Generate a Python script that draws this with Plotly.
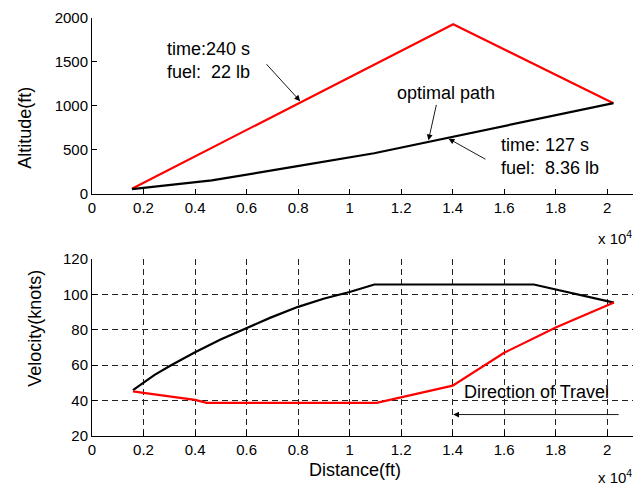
import plotly.graph_objects as go

# ---- data ----
alt_opt_dist = [1550, 4650, 7800, 10950, 20240]
alt_opt = [50, 150, 305, 460, 1030]
alt_alt_dist = [1550, 14020, 20240]
alt_alt = [56, 1930, 1030]

vel_opt_dist = [1590, 2000, 2430, 3070, 4000, 4990, 6000, 6930, 8000, 9020, 10000, 10960, 17150, 20260]
vel_opt = [45.9, 50.2, 54.5, 59.9, 67.3, 74.4, 80.9, 86.8, 92.9, 97.6, 101.3, 105.5, 105.5, 95.3]
vel_alt_dist = [1590, 2000, 4000, 4450, 11050, 14000, 16000, 18000, 20260]
vel_alt = [45.2, 44.3, 40.4, 38.7, 38.7, 48.4, 67.0, 81.3, 95.3]

x_tickvals = [0, 2000, 4000, 6000, 8000, 10000, 12000, 14000, 16000, 18000, 20000]
x_ticktext = ["0", "0.2", "0.4", "0.6", "0.8", "1", "1.2", "1.4", "1.6", "1.8", "2"]
alt_ticks = [0, 500, 1000, 1500, 2000]
vel_ticks = [20, 40, 60, 80, 100, 120]

FONT = "Liberation Sans, Arial, sans-serif"
W, H = 642, 486
ML, MR, MT, MB = 92, 9, 13, 50
PW = W - ML - MR
PH = H - MT - MB

def px_x(px):
    return (px - ML) / PW

def px_y(py):
    return (H - MB - py) / PH

fig = go.Figure()
fig.add_trace(go.Scatter(x=alt_alt_dist, y=alt_alt, mode="lines",
                         line=dict(color="#ff0000", width=2.2), xaxis="x", yaxis="y"))
fig.add_trace(go.Scatter(x=alt_opt_dist, y=alt_opt, mode="lines",
                         line=dict(color="#000000", width=2.2), xaxis="x", yaxis="y"))
fig.add_trace(go.Scatter(x=vel_opt_dist, y=vel_opt, mode="lines",
                         line=dict(color="#000000", width=2.2), xaxis="x2", yaxis="y2"))
fig.add_trace(go.Scatter(x=vel_alt_dist, y=vel_alt, mode="lines",
                         line=dict(color="#ff0000", width=2.2), xaxis="x2", yaxis="y2"))

axis_common = dict(showline=True, linecolor="black", linewidth=1, ticks="inside",
                   ticklen=5, tickcolor="black", mirror=False, zeroline=False,
                   tickfont=dict(family=FONT, size=15, color="black"))

top_dom = [px_y(190.7), 1.0]
bot_dom = [0.0, px_y(256.7)]

fig.update_layout(
    width=W, height=H,
    margin=dict(l=ML, r=MR, t=MT, b=MB),
    paper_bgcolor="white", plot_bgcolor="white",
    showlegend=False,
    font=dict(family=FONT, size=15, color="black"),
    xaxis=dict(domain=[0, 1], range=[0, 21000], tickvals=x_tickvals, ticktext=x_ticktext,
               showgrid=False, anchor="y", **axis_common),
    yaxis=dict(domain=top_dom, range=[0, 2000], tickvals=alt_ticks, showgrid=False,
               anchor="x", **axis_common),
    xaxis2=dict(domain=[0, 1], range=[0, 21000], tickvals=x_tickvals, ticktext=x_ticktext,
                showgrid=True, gridcolor="#222222", gridwidth=1, griddash="6px,4px",
                anchor="y2", **axis_common),
    yaxis2=dict(domain=bot_dom, range=[20, 120], tickvals=vel_ticks, showgrid=True,
                gridcolor="#222222", gridwidth=1, griddash="6px,4px",
                anchor="x2", **axis_common),
)

ann = []
tfont = dict(family=FONT, size=18, color="black")
# axis titles
ann.append(dict(text="Altitude(ft)", xref="paper", yref="paper", x=px_x(25), y=px_y(124),
                textangle=-90, showarrow=False, font=tfont, xanchor="center", yanchor="middle"))
ann.append(dict(text="Velocity(knots)", xref="paper", yref="paper", x=px_x(35), y=px_y(327.5),
                textangle=-90, showarrow=False, font=tfont, xanchor="center", yanchor="middle"))
ann.append(dict(text="Distance(ft)", xref="paper", yref="paper", x=px_x(355), y=px_y(470),
                showarrow=False, font=tfont, xanchor="center", yanchor="middle"))
# exponent labels
for yy in (235, 477):
    ann.append(dict(text="x 10<sup>4</sup>", xref="paper", yref="paper", x=px_x(596), y=px_y(yy),
                    showarrow=False, font=dict(family=FONT, size=15, color="black"),
                    xanchor="left", yanchor="middle"))
# text annotations top plot
ann.append(dict(text="time:240 s<br>fuel:\u00a0 22 lb", x=2835, y=1513, xref="x", yref="y",
                showarrow=False, align="left", xanchor="left", yanchor="middle", font=tfont))
ann.append(dict(text="optimal path", x=13740, y=1150, xref="x", yref="y",
                showarrow=False, xanchor="center", yanchor="middle", font=tfont))
ann.append(dict(text="time: 127 s<br>fuel:\u00a0 8.36 lb", x=15780, y=420, xref="x", yref="y",
                showarrow=False, align="left", xanchor="left", yanchor="middle", font=tfont))
# arrows top plot
arrow_style = dict(showarrow=True, arrowhead=2, arrowsize=1.3, arrowwidth=0.9,
                   arrowcolor="black", text="", standoff=0)
ann.append(dict(x=8080, y=1053, ax=6720, ay=1491, xref="x", yref="y", axref="x", ayref="y",
                **arrow_style))
ann.append(dict(x=13060, y=607, ax=13380, ay=1027, xref="x", yref="y", axref="x", ayref="y",
                **arrow_style))
ann.append(dict(x=13840, y=626, ax=15330, ay=382, xref="x", yref="y", axref="x", ayref="y",
                **arrow_style))
# bottom plot
ann.append(dict(text="Direction of Travel", x=14370, y=44.7, xref="x2", yref="y2",
                showarrow=False, xanchor="left", yanchor="middle", font=tfont))
ann.append(dict(x=14020, y=32.1, ax=20500, ay=32.1, xref="x2", yref="y2", axref="x2", ayref="y2",
                **arrow_style))
fig.update_layout(annotations=ann)

fig.write_html("out.html", config={"displayModeBar": False},
               post_script="document.body.style.margin='0';document.body.style.overflow='hidden';")
